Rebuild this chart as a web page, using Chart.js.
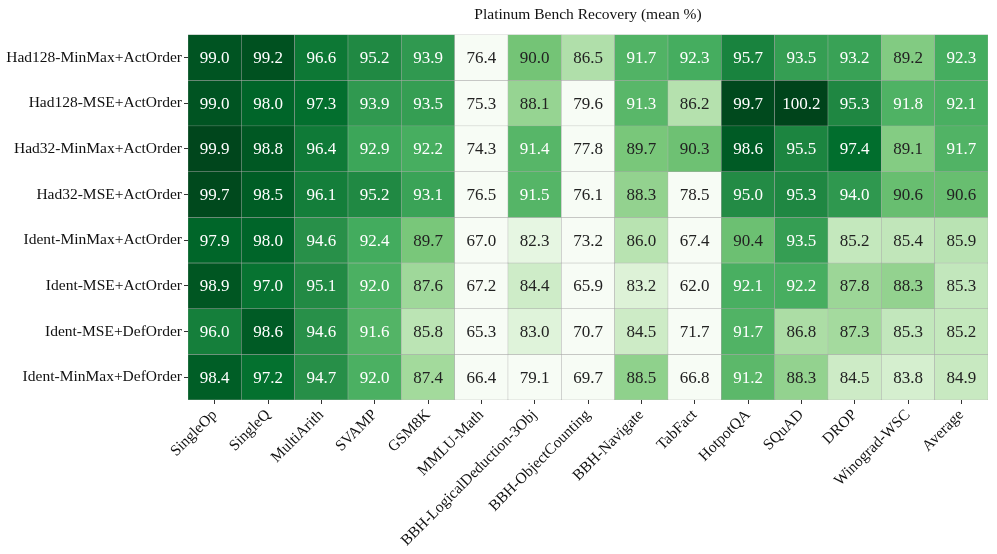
<!DOCTYPE html>
<html>
<head>
<meta charset="utf-8">
<script src="https://cdn.jsdelivr.net/npm/chart.js@4.4.1/dist/chart.umd.min.js"></script>
<style>
  html, body { margin: 0; padding: 0; background: #fff; }
  #wrap { width: 997px; height: 554px; }
</style>
</head>
<body>
<div id="wrap"><canvas id="chart"></canvas></div>
<script>
// ----------------------------
// DATA
// ----------------------------
const benchmarks = ["SingleOp", "SingleQ", "MultiArith", "SVAMP", "GSM8K", "MMLU-Math",
    "BBH-LogicalDeduction-3Obj", "BBH-ObjectCounting", "BBH-Navigate", "TabFact",
    "HotpotQA", "SQuAD", "DROP", "Winograd-WSC", "Average"];

const configs = ["Had128-MinMax+ActOrder", "Had128-MSE+ActOrder", "Had32-MinMax+ActOrder",
    "Had32-MSE+ActOrder", "Ident-MinMax+ActOrder", "Ident-MSE+ActOrder",
    "Ident-MSE+DefOrder", "Ident-MinMax+DefOrder"];

const had128MinMaxAct = [99.0, 99.2, 96.6, 95.2, 93.9, 76.4, 90.0, 86.5, 91.7, 92.3, 95.7, 93.5, 93.2, 89.2, 92.3];
const had128MseAct    = [99.0, 98.0, 97.3, 93.9, 93.5, 75.3, 88.1, 79.6, 91.3, 86.2, 99.7, 100.2, 95.3, 91.8, 92.1];
const had32MinMaxAct  = [99.9, 98.8, 96.4, 92.9, 92.2, 74.3, 91.4, 77.8, 89.7, 90.3, 98.6, 95.5, 97.4, 89.1, 91.7];
const had32MseAct     = [99.7, 98.5, 96.1, 95.2, 93.1, 76.5, 91.5, 76.1, 88.3, 78.5, 95.0, 95.3, 94.0, 90.6, 90.6];
const identMinMaxAct  = [97.9, 98.0, 94.6, 92.4, 89.7, 67.0, 82.3, 73.2, 86.0, 67.4, 90.4, 93.5, 85.2, 85.4, 85.9];
const identMseAct     = [98.9, 97.0, 95.1, 92.0, 87.6, 67.2, 84.4, 65.9, 83.2, 62.0, 92.1, 92.2, 87.8, 88.3, 85.3];
const identMseDef     = [96.0, 98.6, 94.6, 91.6, 85.8, 65.3, 83.0, 70.7, 84.5, 71.7, 91.7, 86.8, 87.3, 85.3, 85.2];
const identMinMaxDef  = [98.4, 97.2, 94.7, 92.0, 87.4, 66.4, 79.1, 69.7, 88.5, 66.8, 91.2, 88.3, 84.5, 83.8, 84.9];

const rowValues = [had128MinMaxAct, had128MseAct, had32MinMaxAct, had32MseAct,
    identMinMaxAct, identMseAct, identMseDef, identMinMaxDef];

// ----------------------------
// GREENS COLOUR MAP
// ----------------------------
const greens = ["#f7fcf5", "#e5f5e0", "#c7e9c0", "#a1d99b", "#74c476",
    "#41ab5d", "#238b45", "#006d2c", "#00441b"];
const vmin = 80, vmax = 100;

function hexToRgb(h) {
    return [parseInt(h.slice(1, 3), 16), parseInt(h.slice(3, 5), 16), parseInt(h.slice(5, 7), 16)];
}

function cellColor(v) {
    let t = (v - vmin) / (vmax - vmin);
    t = Math.max(0, Math.min(1, t));
    const pos = t * (greens.length - 1);
    const i = Math.min(Math.floor(pos), greens.length - 2);
    const f = pos - i;
    const a = hexToRgb(greens[i]), b = hexToRgb(greens[i + 1]);
    const c = a.map((x, k) => Math.round(x + (b[k] - x) * f));
    return `rgb(${c[0]},${c[1]},${c[2]})`;
}

// ----------------------------
// CELL LABELS
// ----------------------------
const cellText = {
    id: "cellText",
    afterDatasetsDraw(chart) {
        const ctx = chart.ctx;
        ctx.save();
        ctx.font = "17px 'Liberation Serif'";
        ctx.textAlign = "center";
        ctx.textBaseline = "middle";
        chart.data.datasets.forEach((ds, di) => {
            const meta = chart.getDatasetMeta(di);
            meta.data.forEach((bar, ci) => {
                const v = rowValues[di][ci];
                ctx.fillStyle = v > 91 ? "#ffffff" : "#222222";
                ctx.fillText(v.toFixed(1), bar.x, (bar.y + bar.base) / 2 + 1);
            });
        });
        ctx.restore();
    }
};

const datasets = configs.map((name, r) => ({
    label: name,
    data: rowValues[r].map(() => [r, r + 1]),
    backgroundColor: rowValues[r].map(cellColor),
    borderColor: "#a8a8a8",
    borderWidth: 0.5,
    borderSkipped: false,
    categoryPercentage: 1,
    barPercentage: 1
}));

new Chart(document.getElementById("chart"), {
    type: "bar",
    data: { labels: benchmarks, datasets: datasets },
    plugins: [cellText],
    options: {
        responsive: true,
        maintainAspectRatio: false,
        animation: false,
        layout: { padding: { left: 0, right: 9, top: 0, bottom: 0 } },
        plugins: {
            legend: { display: false },
            tooltip: { enabled: false },
            title: {
                display: true,
                fullSize: false,
                text: "Platinum Bench Recovery (mean %)",
                color: "#111",
                font: { family: "'Liberation Serif'", size: 15.5, weight: "normal" },
                padding: { top: 6, bottom: 10 }
            }
        },
        scales: {
            x: {
                stacked: true,
                grid: { display: true, offset: false, drawOnChartArea: false, tickLength: 4, tickColor: "#333" },
                border: { display: false },
                ticks: {
                    autoSkip: false,
                    minRotation: 45,
                    maxRotation: 45,
                    padding: 2,
                    color: "#111",
                    font: { family: "'Liberation Serif'", size: 15.5 }
                },
                afterFit(scale) { scale.height = 154; }
            },
            y: {
                stacked: false,
                reverse: true,
                min: 0,
                max: configs.length,
                grid: { display: true, drawOnChartArea: false, tickLength: 4, tickColor: "#333" },
                border: { display: false },
                afterBuildTicks(scale) {
                    scale.ticks = configs.map((_, i) => ({ value: i + 0.5 }));
                },
                ticks: {
                    padding: 2,
                    color: "#111",
                    font: { family: "'Liberation Serif'", size: 15.5 },
                    callback: (value, index) => configs[index]
                },
                afterFit(scale) { scale.width = 188; }
            }
        }
    }
});
</script>
</body>
</html>
